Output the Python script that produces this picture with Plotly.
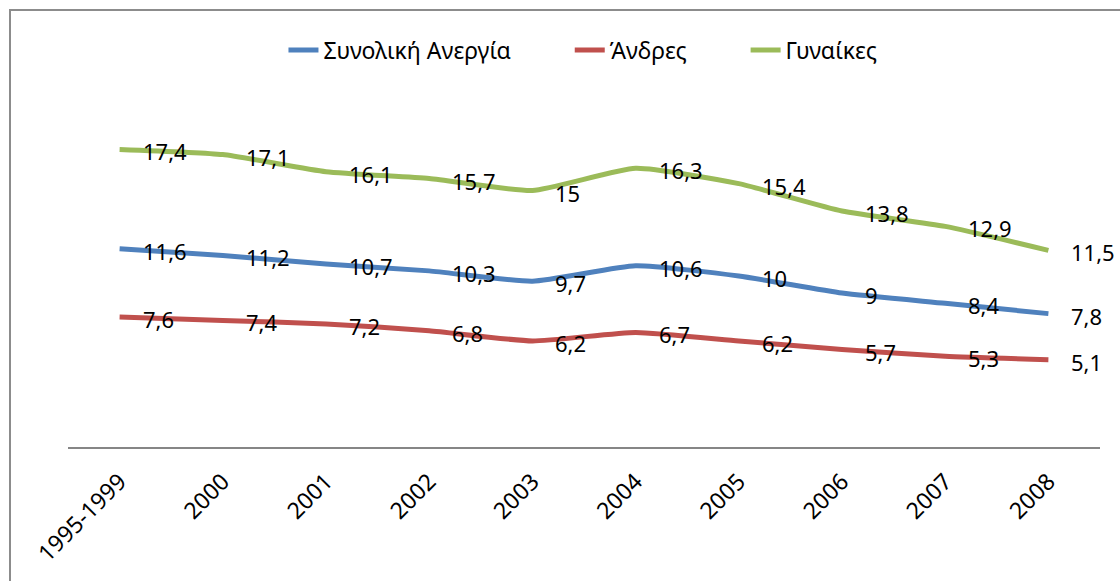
import plotly.graph_objects as go

categories = ["1995-1999", "2000", "2001", "2002", "2003", "2004", "2005", "2006", "2007", "2008"]
total = [11.6, 11.2, 10.7, 10.3, 9.7, 10.6, 10, 9, 8.4, 7.8]
men = [7.6, 7.4, 7.2, 6.8, 6.2, 6.7, 6.2, 5.7, 5.3, 5.1]
women = [17.4, 17.1, 16.1, 15.7, 15, 16.3, 15.4, 13.8, 12.9, 11.5]

series_names = ["Συνολική Ανεργία", "Άνδρες", "Γυναίκες"]
series_values = [total, men, women]
colors = ["#4F81BD", "#C0504D", "#9BBB59"]

FONT = "Noto Sans"
FS = 23
PAD = "\u00a0" * 9


def fmt(v):
    return ("%g" % v).replace(".", ",")


fig = go.Figure()
for k, (name, vals, col) in enumerate(zip(series_names, series_values, colors)):
    fig.add_trace(go.Scatter(
        x=categories, y=vals, name=name + (PAD if k < 2 else ""), mode="lines",
        line=dict(color=col, width=5, shape="spline", smoothing=0.5),
        hoverinfo="skip",
    ))

annotations = []
for vals in series_values:
    for i, v in enumerate(vals):
        annotations.append(dict(
            x=i, y=v, xref="x", yref="y", text=fmt(v), showarrow=False,
            xanchor="left", yanchor="middle", xshift=21, yshift=-2,
            font=dict(family=FONT, size=22, color="#000000"),
        ))

fig.update_layout(
    width=1120, height=581,
    margin=dict(l=68, r=20, t=105, b=134),
    paper_bgcolor="white", plot_bgcolor="white",
    font=dict(family=FONT, size=FS, color="#000000"),
    showlegend=True,
    legend=dict(orientation="h", x=0.499, xanchor="center", y=1.161, yanchor="middle",
                font=dict(family=FONT, size=FS), bgcolor="rgba(0,0,0,0)"),
    xaxis=dict(type="category", range=[-0.5, 9.5], showgrid=False, zeroline=False,
               showline=True, linecolor="#868686", linewidth=2, ticks="",
               tickangle=-45, ticklabelstandoff=10,
               tickfont=dict(family=FONT, size=FS)),
    yaxis=dict(range=[0, 20], visible=False),
    annotations=annotations,
    shapes=[dict(type="rect", xref="paper", yref="paper",
                 x0=-0.0562, x1=1.2, y0=-0.6, y1=1.278,
                 line=dict(color="#8c8c8c", width=2), fillcolor="rgba(0,0,0,0)",
                 layer="below")],
)

fig.write_html(
    "out.html",
    config={"displayModeBar": False},
    post_script="document.body.style.margin='0';document.body.style.overflow='hidden';",
)
